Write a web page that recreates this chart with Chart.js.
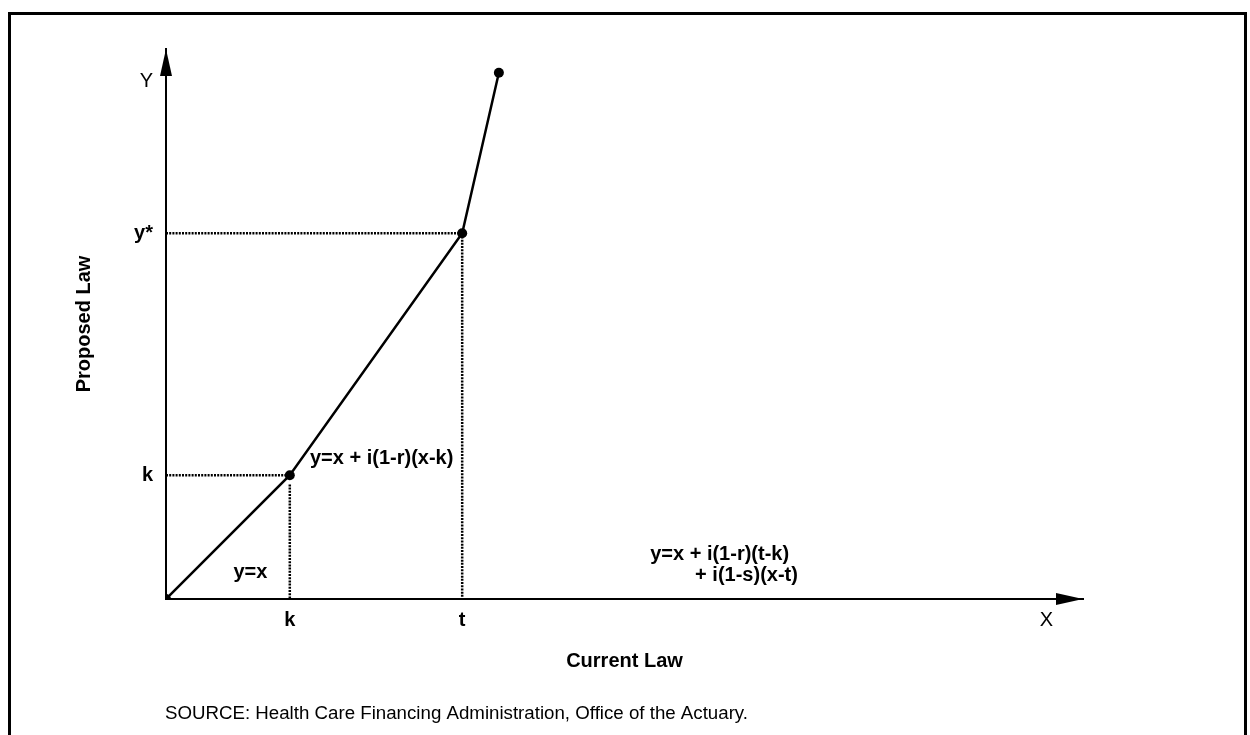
<!DOCTYPE html>
<html lang="en">
<head>
  <meta charset="UTF-8" />
  <title>Current Law vs Proposed Law</title>
  <script src="https://cdn.jsdelivr.net/npm/chart.js"></script>
  <style>
    body {
      margin: 0;
      padding: 0;
      background-color: #ffffff;
    }

    .chart-container {
      width: 1250px;
      height: 735px;
      position: relative;
    }
  </style>
</head>
<body>
  <div class="chart-container">
    <canvas id="lawChart"></canvas>
  </div>

  <script>
    // break points of the schedule (Current Law on x, Proposed Law on y)
    const kValue = 13.5;
    const tValue = 32.3;
    const yStar = 39.9;

    const pathX = [0, kValue, tValue, 36.3];
    const pathY = [0, kValue, yStar, 57.4];

    const xTickValues = [kValue, tValue, 96];
    const xTickLabels = ['k', 't', 'X'];
    const yTickValues = [kValue, yStar, 56.5];
    const yTickLabels = ['k', 'y*', 'Y'];

    // formula notes, anchored in data units
    const notes = [
      { text: 'y=x', x: 9.2, y: 2.3, align: 'center' },
      { text: 'y=x + i(1-r)(x-k)', x: 15.7, y: 14.7, align: 'left' },
      { text: 'y=x + i(1-r)(t-k)', x: 52.8, y: 4.25, align: 'left' },
      { text: '+ i(1-s)(x-t)', x: 57.7, y: 1.96, align: 'left' }
    ];

    const sourceText = 'SOURCE: Health Care Financing Administration, Office of the Actuary.';

    const boldFont = { family: '"Liberation Sans", Arial, sans-serif', size: 20, weight: 'bold' };
    const plainFont = { family: '"Liberation Sans", Arial, sans-serif', size: 20, weight: 'normal' };

    const toPoints = (xs, ys) => xs.map((x, i) => ({ x: x, y: ys[i] }));

    const dotted = {
      borderColor: '#000',
      borderWidth: 2.5,
      borderDash: [2, 1.2],
      pointRadius: 0,
      showLine: true,
      fill: false
    };

    const extras = {
      id: 'extras',
      beforeDraw(chart) {
        const ctx = chart.ctx;
        ctx.save();
        ctx.strokeStyle = '#000';
        ctx.lineWidth = 3;
        ctx.beginPath();
        ctx.moveTo(9.5, 735);
        ctx.lineTo(9.5, 13.5);
        ctx.lineTo(1245.5, 13.5);
        ctx.lineTo(1245.5, 735);
        ctx.stroke();
        ctx.restore();
      },
      afterDraw(chart) {
        const ctx = chart.ctx;
        const xs = chart.scales.x;
        const ys = chart.scales.y;
        const ox = xs.getPixelForValue(0);
        const oy = ys.getPixelForValue(0);
        ctx.save();
        ctx.fillStyle = '#000';

        // arrow heads
        ctx.beginPath();
        ctx.moveTo(ox, ys.top);
        ctx.lineTo(ox - 6, ys.top + 27);
        ctx.lineTo(ox + 6, ys.top + 27);
        ctx.closePath();
        ctx.fill();

        ctx.beginPath();
        ctx.moveTo(xs.right, oy);
        ctx.lineTo(xs.right - 27, oy - 6);
        ctx.lineTo(xs.right - 27, oy + 6);
        ctx.closePath();
        ctx.fill();

        ctx.font = 'bold 20px "Liberation Sans", Arial, sans-serif';
        ctx.textBaseline = 'alphabetic';
        notes.forEach(n => {
          ctx.textAlign = n.align;
          ctx.fillText(n.text, xs.getPixelForValue(n.x), ys.getPixelForValue(n.y));
        });

        ctx.font = '18.7px "Liberation Sans", Arial, sans-serif';
        ctx.textAlign = 'left';
        ctx.fillText(sourceText, 165, 719);
        ctx.restore();
      }
    };

    const ctx = document.getElementById('lawChart').getContext('2d');
    const chart = new Chart(ctx, {
      type: 'scatter',
      data: {
        datasets: [
          {
            data: toPoints(pathX, pathY),
            borderColor: '#000',
            backgroundColor: '#000',
            borderWidth: 2.5,
            pointRadius: 5,
            pointBorderWidth: 0,
            showLine: true,
            tension: 0
          },
          { ...dotted, data: toPoints([0, kValue], [kValue, kValue]) },
          { ...dotted, data: toPoints([kValue, kValue], [kValue - 1, 0]) },
          { ...dotted, data: toPoints([0, tValue], [yStar, yStar]) },
          { ...dotted, data: toPoints([tValue, tValue], [yStar, 0]) }
        ]
      },
      options: {
        responsive: true,
        maintainAspectRatio: false,
        animation: false,
        layout: {
          padding: { left: 0, right: 167, top: 49, bottom: 0 }
        },
        scales: {
          x: {
            type: 'linear',
            min: 0,
            max: 100,
            grid: { display: false, drawTicks: false },
            border: { display: true, color: '#000', width: 2 },
            afterBuildTicks: s => { s.ticks = xTickValues.map(v => ({ value: v })); },
            afterFit: s => { s.height = 136; },
            ticks: {
              autoSkip: false,
              maxRotation: 0,
              padding: 9,
              color: '#000',
              font: c => (xTickLabels[c.index] === 'X' ? plainFont : boldFont),
              callback: (v, i) => xTickLabels[i]
            },
            title: {
              display: true,
              text: 'Current Law',
              color: '#000',
              font: boldFont,
              padding: { top: 0, bottom: 62 }
            }
          },
          y: {
            type: 'linear',
            min: 0,
            max: 60,
            grid: { display: false, drawTicks: false },
            border: { display: true, color: '#000', width: 2 },
            afterBuildTicks: s => { s.ticks = yTickValues.map(v => ({ value: v })); },
            afterFit: s => { s.width = 166; },
            ticks: {
              autoSkip: false,
              padding: 13,
              color: '#000',
              font: c => (yTickLabels[c.index] === 'Y' ? plainFont : boldFont),
              callback: (v, i) => yTickLabels[i]
            },
            title: {
              display: true,
              text: 'Proposed Law',
              color: '#000',
              font: boldFont,
              padding: { top: 72, bottom: 0 }
            }
          }
        },
        plugins: {
          legend: { display: false },
          tooltip: { enabled: false }
        }
      },
      plugins: [extras]
    });
  </script>
</body>
</html>
